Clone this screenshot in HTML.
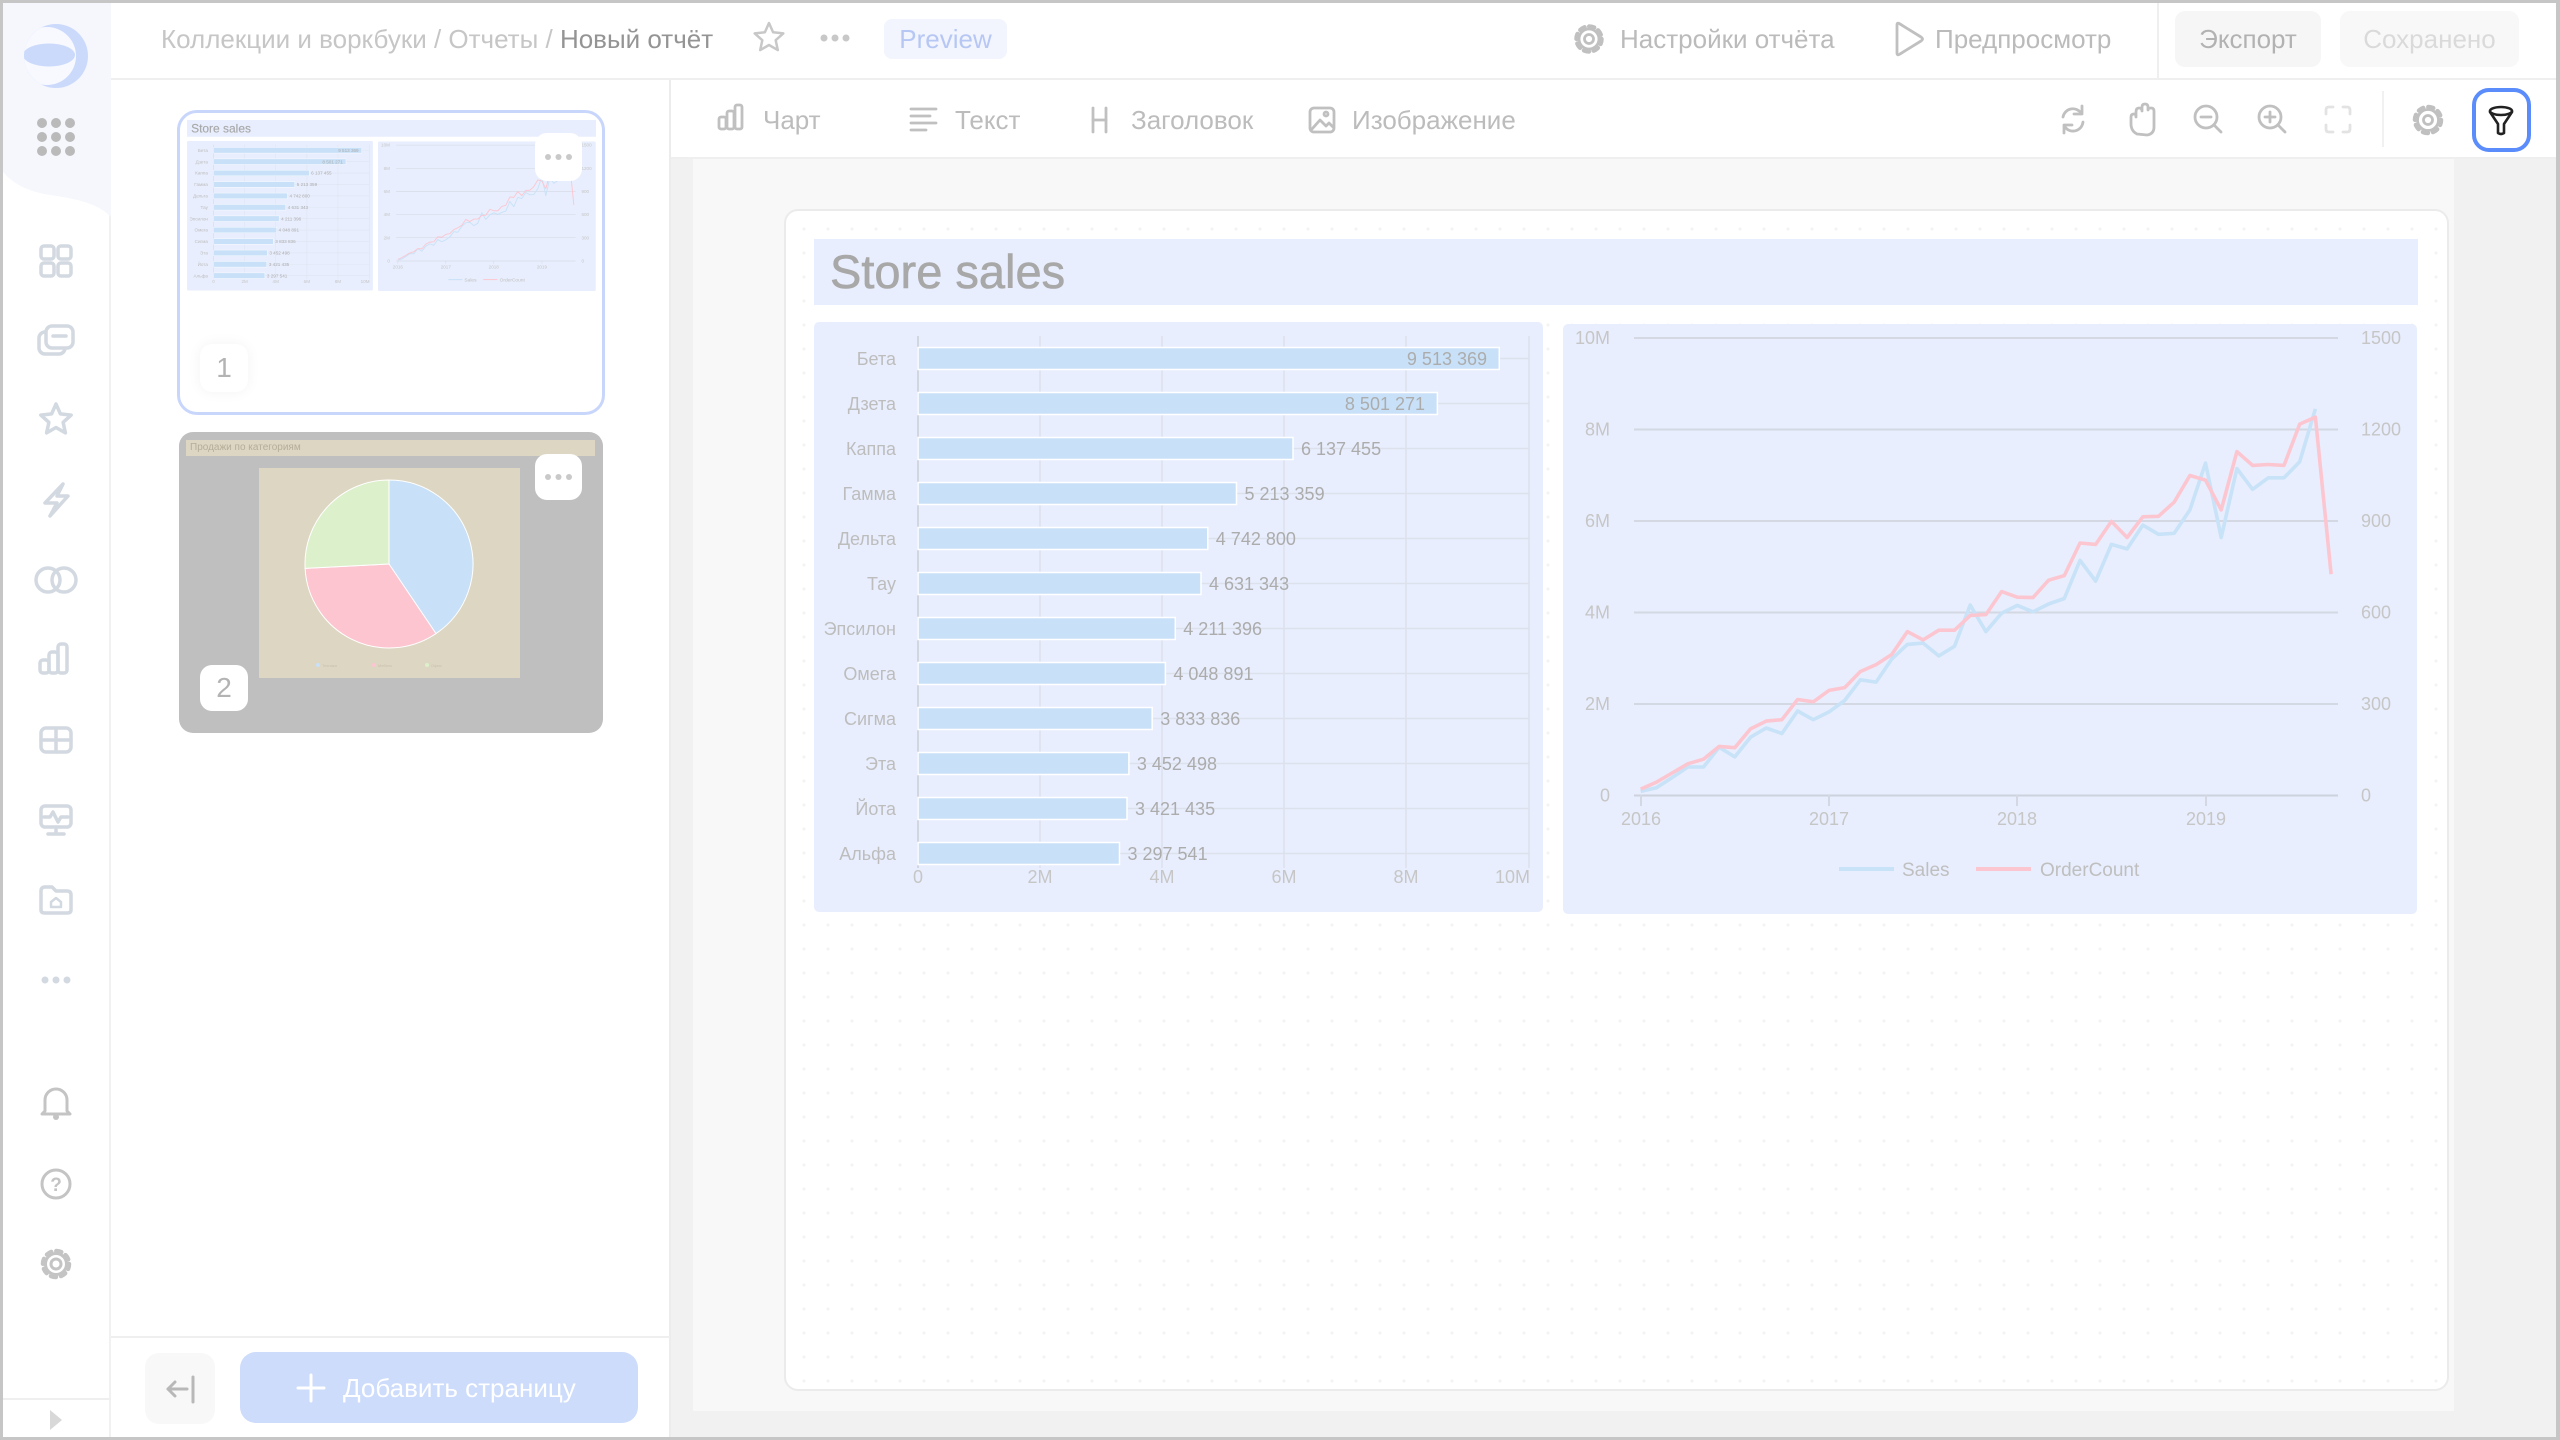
<!DOCTYPE html>
<html><head><meta charset="utf-8">
<style>
*{box-sizing:border-box;margin:0;padding:0}
html,body{width:2560px;height:1440px;overflow:hidden;background:#fff;font-family:"Liberation Sans","Noto Sans CJK SC",sans-serif}
.a{position:absolute}
.t{position:absolute;font-size:26px;line-height:40px;height:40px;white-space:nowrap}
svg{position:absolute;overflow:visible}
</style></head><body>

<!-- sidebar -->
<div class="a" style="left:0;top:0;width:111px;height:1440px;background:#fff;border-right:2px solid #f1f1f1"></div>
<svg style="left:0;top:0" width="111" height="1440" viewBox="0 0 111 1440">
  <path d="M0,0 H111 V217 C100,205 80,199 50,195 C25,191 10,182 0,168 Z" fill="#f5f7fd"/>
  <defs><clipPath id="lc"><circle cx="56" cy="56" r="32"/></clipPath></defs>
  <circle cx="56" cy="56" r="32" fill="#cbd9fb"/>
  <g clip-path="url(#lc)">
    <circle cx="47" cy="56" r="29" fill="#f7f9ff"/>
    <ellipse cx="49" cy="55" rx="26" ry="11.5" fill="#cbd9fb"/>
  </g>
  <g fill="#bababa">
    <circle cx="42" cy="123" r="5"/><circle cx="56" cy="123" r="5"/><circle cx="70" cy="123" r="5"/>
    <circle cx="42" cy="137" r="5"/><circle cx="56" cy="137" r="5"/><circle cx="70" cy="137" r="5"/>
    <circle cx="42" cy="151" r="5"/><circle cx="56" cy="151" r="5"/><circle cx="70" cy="151" r="5"/>
  </g>
  <g fill="none" stroke="#d3d9e1" stroke-width="3.5" stroke-linejoin="round" stroke-linecap="round">
    <rect x="41" y="246" width="13" height="13" rx="3"/><rect x="58" y="246" width="13" height="13" rx="3"/>
    <rect x="41" y="263" width="13" height="13" rx="3"/><rect x="58" y="263" width="13" height="13" rx="3"/>
    <rect x="39" y="332" width="26" height="22" rx="6"/>
    <rect x="46" y="326" width="27" height="22" rx="6" fill="#fff"/>
    <line x1="53" y1="336" x2="66" y2="336"/>
    <polygon points="56,404 60.4,413.9 71.2,415.1 63.1,422.3 65.4,432.9 56,427.5 46.6,432.9 48.9,422.3 40.8,415.1 51.6,413.9"/>
    <path d="M63,484 L45,503 H57 L50,516 L68,496 H57 Z"/>
    <circle cx="48" cy="580" r="12"/><circle cx="64" cy="580" r="12"/>
    <rect x="40" y="660" width="9" height="13" rx="3"/><rect x="49" y="652" width="9" height="21" rx="3"/><rect x="58" y="644" width="9" height="29" rx="3"/>
    <rect x="41" y="728" width="30" height="24" rx="5"/><line x1="56" y1="728" x2="56" y2="752"/><line x1="41" y1="740" x2="71" y2="740"/>
    <rect x="41" y="806" width="30" height="21" rx="4"/><line x1="56" y1="827" x2="56" y2="833"/><line x1="48" y1="834" x2="64" y2="834"/>
    <polyline points="44,817 50,817 53,812 58,822 61,817 68,817"/>
    <path d="M41,891 Q41,887 45,887 H52 L56,891 H67 Q71,891 71,895 V910 Q71,913 67,913 H45 Q41,913 41,910 Z"/>
    <path d="M51,907 V902 L56,898 L61,902 V907 Z" stroke-width="2.5"/>
  </g>
  <g fill="#d3d9e1"><circle cx="45" cy="980" r="3.5"/><circle cx="56" cy="980" r="3.5"/><circle cx="67" cy="980" r="3.5"/></g>
  <g fill="none" stroke="#c4c4c4" stroke-width="3" stroke-linejoin="round" stroke-linecap="round">
    <path d="M45,1111 V1100 A11,11 0 0 1 67,1100 V1111 L70,1114 H42 Z"/>
    <circle cx="56" cy="1184" r="14"/>
    <circle cx="56" cy="1264" r="5"/>
    <circle cx="56" cy="1264" r="10.5"/>
    <circle cx="56" cy="1264" r="13" stroke-width="4.5" stroke-dasharray="5 5.2"/>
  </g>
  <circle cx="56" cy="1117" r="3" fill="#c4c4c4"/>
  <text x="56" y="1191" font-size="19" font-weight="bold" fill="#c4c4c4" text-anchor="middle">?</text>
  <line x1="0" y1="1399" x2="111" y2="1399" stroke="#efefef" stroke-width="2"/>
  <path d="M50,1410 L62,1420 L50,1430 Z" fill="#d8d8d8"/>
</svg>

<!-- header -->
<div class="a" style="left:111px;top:0;width:2449px;height:80px;background:#fff;border-bottom:2px solid #efefef"></div>
<div class="t" style="left:161px;top:19px;color:#c6c6c6">Коллекции и воркбуки / Отчеты / <span style="color:#949494">Новый отчёт</span></div>
<div class="a" style="left:884px;top:19px;width:123px;height:40px;background:#f2f5fe;border-radius:8px"></div>
<div class="t" style="left:884px;top:19px;width:123px;text-align:center;color:#b7c7f4">Preview</div>
<div class="t" style="left:1620px;top:19px;color:#bbbbbb">Настройки отчёта</div>
<div class="t" style="left:1935px;top:19px;color:#bbbbbb">Предпросмотр</div>
<div class="a" style="left:2157px;top:0;width:2px;height:79px;background:#efefef"></div>
<div class="a" style="left:2175px;top:11px;width:146px;height:56px;background:#f6f6f6;border-radius:10px"></div>
<div class="t" style="left:2175px;top:19px;width:146px;text-align:center;color:#b2b2b2">Экспорт</div>
<div class="a" style="left:2340px;top:11px;width:179px;height:56px;background:#f8f8f8;border-radius:10px"></div>
<div class="t" style="left:2340px;top:19px;width:179px;text-align:center;color:#dadada">Сохранено</div>

<!-- left panel -->
<div class="a" style="left:111px;top:80px;width:560px;height:1360px;background:#fff;border-right:2px solid #ececec"></div>

<!-- toolbar -->
<div class="a" style="left:671px;top:80px;width:1889px;height:79px;background:#fff;border-bottom:2px solid #efefef"></div>
<div class="t" style="left:763px;top:100px;color:#bcbcbc">Чарт</div>
<div class="t" style="left:955px;top:100px;color:#bcbcbc">Текст</div>
<div class="t" style="left:1131px;top:100px;color:#bcbcbc">Заголовок</div>
<div class="t" style="left:1352px;top:100px;color:#bcbcbc">Изображение</div>
<div class="a" style="left:2382px;top:91px;width:2px;height:56px;background:#f1f1f1"></div>

<svg style="left:0;top:0" width="2560" height="160" viewBox="0 0 2560 160">
  <g fill="none" stroke="#c8c8c8" stroke-width="2.5" stroke-linejoin="round" stroke-linecap="round">
    <polygon points="769,23 773.1,32.3 783.3,33.4 775.7,40.2 777.8,50.1 769,45 760.2,50.1 762.3,40.2 754.7,33.4 764.9,32.3"/>
  </g>
  <g fill="#c8c8c8"><circle cx="824" cy="38" r="3.5"/><circle cx="835" cy="38" r="3.5"/><circle cx="846" cy="38" r="3.5"/></g>
  <g fill="none" stroke="#c0c0c0" stroke-width="2.8" stroke-linejoin="round" stroke-linecap="round">
    <circle cx="1589" cy="39" r="4.5"/>
    <circle cx="1589" cy="39" r="10"/>
    <circle cx="1589" cy="39" r="12.5" stroke-width="4.5" stroke-dasharray="5 4.8"/>
    <path d="M1897,25 Q1897,22 1900,24 L1921,37 Q1924,39 1921,41 L1900,54 Q1897,56 1897,53 Z"/>
    <rect x="719" y="117" width="7" height="12" rx="2"/><rect x="727" y="111" width="7" height="18" rx="2"/><rect x="735" y="105" width="7" height="24" rx="2"/>
    <line x1="911" y1="109" x2="936" y2="109"/><line x1="911" y1="116" x2="930" y2="116"/><line x1="911" y1="123" x2="936" y2="123"/><line x1="911" y1="130" x2="926" y2="130"/>
    <line x1="1093" y1="108" x2="1093" y2="132"/><line x1="1106" y1="108" x2="1106" y2="132"/><line x1="1093" y1="120" x2="1106" y2="120"/>
    <rect x="1310" y="108" width="24" height="24" rx="4"/><path d="M1312,129 L1320,120 L1326,126 L1329,123 L1333,127"/><circle cx="1326" cy="114" r="2"/>
    <path d="M2063,117 A10,10 0 0 1 2081,113"/><path d="M2083,122 A10,10 0 0 1 2065,127"/>
    <path d="M2082,106 L2082,114 L2074,114"/><path d="M2064,133 L2064,125 L2072,125"/>
    <path d="M2137,134 Q2131,131 2131,124 V117 Q2131,114 2134,114 Q2136,114 2136,117 V112 Q2136,108 2139,108 Q2142,108 2142,111 V107 Q2142,104 2145,104 Q2148,104 2148,107 V110 Q2148,108 2151,108 Q2154,108 2154,111 V127 Q2154,134 2147,135 Z"/>
    <circle cx="2206" cy="117" r="11"/><line x1="2214" y1="125" x2="2221" y2="132"/><line x1="2201" y1="117" x2="2211" y2="117"/>
    <circle cx="2270" cy="117" r="11"/><line x1="2278" y1="125" x2="2285" y2="132"/><line x1="2265" y1="117" x2="2275" y2="117"/><line x1="2270" y1="112" x2="2270" y2="122"/>
    <g stroke="#e3e3e3"><path d="M2326,114 V110 Q2326,107 2329,107 H2333"/><path d="M2343,107 H2347 Q2350,107 2350,110 V114"/><path d="M2350,125 V129 Q2350,132 2347,132 H2343"/><path d="M2333,132 H2329 Q2326,132 2326,129 V125"/></g>
    <circle cx="2428" cy="120" r="4.5"/>
    <circle cx="2428" cy="120" r="10.5"/>
    <circle cx="2428" cy="120" r="13" stroke-width="4.5" stroke-dasharray="5 5.2"/>
  </g>
  <rect x="2474" y="90" width="55" height="60" rx="15" fill="#fff" stroke="#5b8cfb" stroke-width="4"/>
  <g fill="none" stroke="#222" stroke-width="2.6" stroke-linejoin="round" stroke-linecap="round">
    <ellipse cx="2501" cy="111" rx="11" ry="4"/>
    <path d="M2490,112 L2498,124 V133 Q2501,135 2504,133 V124 L2512,112"/>
  </g>
</svg>

<!-- canvas -->
<div class="a" style="left:671px;top:159px;width:1889px;height:1281px;background:#f1f1f1"></div>
<div class="a" style="left:693px;top:159px;width:1761px;height:1252px;background:#f8f8f8"></div>
<div class="a" style="left:784px;top:209px;width:1665px;height:1182px;background-color:#fff;background-image:radial-gradient(circle,#f3f3f3 1.3px,transparent 1.8px);background-size:24px 24px;background-position:6px 6px;border:2px solid #ebebeb;border-radius:14px"></div>

<svg style="left:784px;top:209px" width="1665" height="1182" viewBox="784 209 1665 1182">
<g id="cc" font-family="Liberation Sans, sans-serif">
  <rect x="814" y="239" width="1604" height="66" fill="#e8eefd"/>
  <text x="830" y="288" font-size="47" fill="#a8a8a8" stroke="#a8a8a8" stroke-width="0.6">Store sales</text>
  <rect x="814" y="322" width="729" height="590" rx="5" fill="#e8eefd"/>
  <g stroke="#dce1ec" stroke-width="1.5">
    <line x1="1040" y1="336" x2="1040" y2="868"/><line x1="1162" y1="336" x2="1162" y2="868"/>
    <line x1="1284" y1="336" x2="1284" y2="868"/><line x1="1406" y1="336" x2="1406" y2="868"/>
    <line x1="1529" y1="336" x2="1529" y2="868"/>
    <line x1="918" y1="358.5" x2="1529" y2="358.5"/><line x1="918" y1="403.5" x2="1529" y2="403.5"/>
    <line x1="918" y1="448.5" x2="1529" y2="448.5"/><line x1="918" y1="493.5" x2="1529" y2="493.5"/>
    <line x1="918" y1="538.5" x2="1529" y2="538.5"/><line x1="918" y1="583.5" x2="1529" y2="583.5"/>
    <line x1="918" y1="628.5" x2="1529" y2="628.5"/><line x1="918" y1="673.5" x2="1529" y2="673.5"/>
    <line x1="918" y1="718.5" x2="1529" y2="718.5"/><line x1="918" y1="763.5" x2="1529" y2="763.5"/>
    <line x1="918" y1="808.5" x2="1529" y2="808.5"/><line x1="918" y1="853.5" x2="1529" y2="853.5"/>
  </g>
  <line x1="918" y1="336" x2="918" y2="868" stroke="#d2d6e0" stroke-width="2"/>
  <g fill="#c8e1f8" stroke="#fff" stroke-width="1.5">
    <rect x="918" y="347.5" width="581.3" height="22"/>
    <rect x="918" y="392.5" width="519.4" height="22"/>
    <rect x="918" y="437.5" width="375" height="22"/>
    <rect x="918" y="482.5" width="318.5" height="22"/>
    <rect x="918" y="527.5" width="289.8" height="22"/>
    <rect x="918" y="572.5" width="283" height="22"/>
    <rect x="918" y="617.5" width="257.3" height="22"/>
    <rect x="918" y="662.5" width="247.4" height="22"/>
    <rect x="918" y="707.5" width="234.2" height="22"/>
    <rect x="918" y="752.5" width="210.9" height="22"/>
    <rect x="918" y="797.5" width="209" height="22"/>
    <rect x="918" y="842.5" width="201.5" height="22"/>
  </g>
  <g font-size="18" fill="#bdbdbd" text-anchor="end">
    <text x="896" y="365">Бета</text><text x="896" y="410">Дзета</text><text x="896" y="455">Каппа</text>
    <text x="896" y="500">Гамма</text><text x="896" y="545">Дельта</text><text x="896" y="590">Тау</text>
    <text x="896" y="635">Эпсилон</text><text x="896" y="680">Омега</text><text x="896" y="725">Сигма</text>
    <text x="896" y="770">Эта</text><text x="896" y="815">Йота</text><text x="896" y="860">Альфа</text>
  </g>
  <g font-size="18" fill="#acacac">
    <text x="1487" y="365" text-anchor="end">9 513 369</text>
    <text x="1425" y="410" text-anchor="end">8 501 271</text>
    <text x="1301" y="455">6 137 455</text>
    <text x="1244.5" y="500">5 213 359</text>
    <text x="1215.8" y="545">4 742 800</text>
    <text x="1209" y="590">4 631 343</text>
    <text x="1183.3" y="635">4 211 396</text>
    <text x="1173.4" y="680">4 048 891</text>
    <text x="1160.2" y="725">3 833 836</text>
    <text x="1136.9" y="770">3 452 498</text>
    <text x="1135" y="815">3 421 435</text>
    <text x="1127.5" y="860">3 297 541</text>
  </g>
  <g font-size="18" fill="#c6c6c6" text-anchor="middle">
    <text x="918" y="883">0</text><text x="1040" y="883">2M</text><text x="1162" y="883">4M</text>
    <text x="1284" y="883">6M</text><text x="1406" y="883">8M</text><text x="1530" y="883" text-anchor="end">10M</text>
  </g>
  <rect x="1563" y="324" width="854" height="590" rx="5" fill="#e8eefd"/>
  <g stroke="#d4d8e3" stroke-width="2">
    <line x1="1634" y1="338" x2="2338" y2="338"/><line x1="1634" y1="429.5" x2="2338" y2="429.5"/>
    <line x1="1634" y1="521" x2="2338" y2="521"/><line x1="1634" y1="612.5" x2="2338" y2="612.5"/>
    <line x1="1634" y1="704" x2="2338" y2="704"/><line x1="1634" y1="795.5" x2="2338" y2="795.5" stroke="#cdd2dd"/>
    <line x1="1641" y1="795" x2="1641" y2="806"/><line x1="1829" y1="795" x2="1829" y2="806"/>
    <line x1="2017" y1="795" x2="2017" y2="806"/><line x1="2206" y1="795" x2="2206" y2="806"/>
  </g>
  <g font-size="18" fill="#c6c6c6" text-anchor="end">
    <text x="1610" y="344">10M</text><text x="1610" y="435.5">8M</text><text x="1610" y="527">6M</text>
    <text x="1610" y="618.5">4M</text><text x="1610" y="710">2M</text><text x="1610" y="801.5">0</text>
  </g>
  <g font-size="18" fill="#c6c6c6">
    <text x="2361" y="344">1500</text><text x="2361" y="435.5">1200</text><text x="2361" y="527">900</text>
    <text x="2361" y="618.5">600</text><text x="2361" y="710">300</text><text x="2361" y="801.5">0</text>
  </g>
  <g font-size="18" fill="#c6c6c6" text-anchor="middle">
    <text x="1641" y="825">2016</text><text x="1829" y="825">2017</text><text x="2017" y="825">2018</text><text x="2206" y="825">2019</text>
  </g>
  <polyline fill="none" stroke="#c8e2f8" stroke-width="3.6" stroke-linejoin="round" points="1640.7,791.4 1656.4,787.7 1672.1,777.6 1687.8,767.0 1703.5,767.0 1719.2,747.3 1734.8,756.9 1750.5,737.2 1766.2,728.0 1781.9,733.5 1797.6,711.0 1813.3,719.7 1829.0,711.9 1844.7,700.5 1860.4,679.8 1876.1,682.1 1891.7,659.1 1907.4,644.4 1923.1,643.1 1938.8,655.9 1954.5,646.3 1970.2,605.0 1985.9,631.6 2001.6,613.2 2017.3,605.4 2033.0,611.8 2048.6,604.0 2064.3,598.5 2080.0,560.4 2095.7,581.1 2111.4,544.4 2127.1,548.9 2142.8,525.1 2158.5,534.3 2174.2,533.3 2189.9,509.9 2205.5,463.1 2221.2,537.5 2236.9,468.6 2252.6,489.3 2268.3,477.8 2284.0,477.8 2299.7,461.7 2315.4,408.9"/>
  <polyline fill="none" stroke="#fcc6d1" stroke-width="3.6" stroke-linejoin="round" points="1640.7,789.1 1656.4,782.2 1672.1,773.0 1687.8,763.8 1703.5,759.2 1719.2,746.4 1734.8,747.7 1750.5,728.9 1766.2,721.1 1781.9,719.7 1797.6,699.5 1813.3,701.8 1829.0,690.4 1844.7,687.6 1860.4,671.5 1876.1,664.6 1891.7,654.5 1907.4,631.6 1923.1,639.9 1938.8,630.2 1954.5,630.2 1970.2,615.5 1985.9,614.6 2001.6,591.6 2017.3,597.2 2033.0,597.6 2048.6,580.2 2064.3,575.6 2080.0,543.0 2095.7,544.4 2111.4,521.4 2127.1,537.5 2142.8,516.8 2158.5,516.3 2174.2,502.1 2189.9,475.5 2205.5,480.1 2221.2,509.9 2236.9,451.6 2252.6,465.4 2268.3,464.5 2284.0,465.4 2299.7,424.1 2315.4,417.2 2331.1,574.2"/>
  <line x1="1839" y1="869" x2="1894" y2="869" stroke="#c8e2f8" stroke-width="4"/>
  <line x1="1976" y1="869" x2="2031" y2="869" stroke="#fcc6d1" stroke-width="4"/>
  <g font-size="19" fill="#bfbfbf"><text x="1902" y="876">Sales</text><text x="2040" y="876">OrderCount</text></g>
</g>
</svg>

<!-- thumbnail 1 -->
<div class="a" style="left:177px;top:110px;width:428px;height:305px;border:3px solid #c9d6fb;border-radius:20px;background:#fff"></div>
<svg style="left:187px;top:120px" width="409" height="171" viewBox="814 239 1604 675" preserveAspectRatio="none"><use href="#cc"/></svg>
<div class="a" style="left:535px;top:133px;width:47px;height:48px;background:#fff;border-radius:12px"></div>
<svg style="left:535px;top:133px" width="47" height="48"><g fill="#c9c9c9"><circle cx="13" cy="24" r="3"/><circle cx="23.5" cy="24" r="3"/><circle cx="34" cy="24" r="3"/></g></svg>
<div class="a" style="left:200px;top:344px;width:48px;height:48px;background:#fff;border-radius:12px;box-shadow:0 0 14px rgba(0,0,0,0.05);font-size:28px;line-height:48px;text-align:center;color:#b3b3b3">1</div>

<!-- thumbnail 2 -->
<div class="a" style="left:179px;top:432px;width:424px;height:301px;background:#bfbfbf;border-radius:14px"></div>
<div class="a" style="left:186px;top:440px;width:409px;height:16px;background:#ddd6c3;font-size:10px;line-height:16px;color:#b5ad98;padding-left:4px;white-space:nowrap">Продажи по категориям</div>
<div class="a" style="left:259px;top:468px;width:261px;height:210px;background:#ddd6c2"></div>
<svg style="left:0;top:0" width="700" height="760" viewBox="0 0 700 760">
  <g stroke="#fff" stroke-width="1">
    <path d="M389,564 L389,480 A84,84 0 0 1 436,633.6 Z" fill="#c8e0f8"/>
    <path d="M389,564 L436,633.6 A84,84 0 0 1 305.1,568.4 Z" fill="#fcc5d0"/>
    <path d="M389,564 L305.1,568.4 A84,84 0 0 1 389,480 Z" fill="#dcf0cb"/>
  </g>
  <circle cx="318" cy="665" r="2" fill="#c8e0f8"/><circle cx="374" cy="665" r="2" fill="#fcc5d0"/><circle cx="427" cy="665" r="2" fill="#dcf0cb"/>
  <g font-size="4" fill="#c9c1ad"><text x="322" y="667">Техника</text><text x="378" y="667">Мебель</text><text x="431" y="667">Офис</text></g>
</svg>
<div class="a" style="left:535px;top:454px;width:47px;height:46px;background:#fff;border-radius:12px"></div>
<svg style="left:535px;top:454px" width="47" height="46"><g fill="#c9c9c9"><circle cx="13" cy="23" r="3"/><circle cx="23.5" cy="23" r="3"/><circle cx="34" cy="23" r="3"/></g></svg>
<div class="a" style="left:200px;top:665px;width:48px;height:46px;background:#fff;border-radius:12px;font-size:28px;line-height:46px;text-align:center;color:#b3b3b3">2</div>

<!-- left panel bottom -->
<div class="a" style="left:111px;top:1336px;width:559px;height:2px;background:#efefef"></div>
<div class="a" style="left:145px;top:1353px;width:70px;height:71px;background:#f8f8f8;border-radius:14px"></div>
<svg style="left:0;top:0" width="300" height="1440" viewBox="0 0 300 1440">
  <g fill="none" stroke="#b8b8b8" stroke-width="3" stroke-linecap="round" stroke-linejoin="round">
    <line x1="168" y1="1389" x2="187" y2="1389"/><path d="M175,1382 L168,1389 L175,1396"/><line x1="193" y1="1377" x2="193" y2="1402"/>
  </g>
</svg>
<div class="a" style="left:240px;top:1352px;width:398px;height:71px;background:#cddcfb;border-radius:16px"></div>
<svg style="left:0;top:0" width="400" height="1440" viewBox="0 0 400 1440">
  <g stroke="#fff" stroke-width="3" stroke-linecap="round"><line x1="298" y1="1388" x2="324" y2="1388"/><line x1="311" y1="1375" x2="311" y2="1401"/></g>
</svg>
<div class="t" style="left:343px;top:1368px;color:#fff">Добавить страницу</div>

<!-- outer frame -->
<div class="a" style="left:0;top:0;width:2560px;height:3px;background:#c6c6c6"></div>
<div class="a" style="left:0;top:1437px;width:2560px;height:3px;background:#c6c6c6"></div>
<div class="a" style="left:0;top:0;width:3px;height:1440px;background:#c6c6c6"></div>
<div class="a" style="left:2556px;top:0;width:4px;height:1440px;background:#c6c6c6"></div>
</body></html>
